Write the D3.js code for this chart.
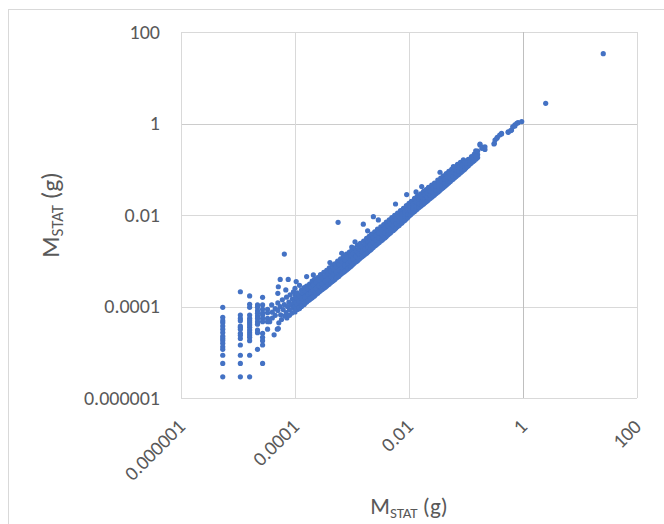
<!DOCTYPE html>
<html>
<head>
<meta charset="utf-8">
<script src="https://cdn.jsdelivr.net/npm/d3@7"></script>
<style>
  body { margin: 0; background: #fff; }
  text { font-family: Carlito, Calibri, "Open Sans", sans-serif; fill: #595959; }
</style>
</head>
<body>
<div id="scatter"></div>
<script>
// tick values and their labels (same on both axes)
var tickValues = [0.000001, 0.0001, 0.01, 1, 100];
var tickLabels = ["0.000001", "0.0001", "0.01", "1", "100"];

// small masses at the left
var lowMassPoints = [
  [5.4e-6, 9.6e-5], [5.4e-6, 5.8e-5], [5.4e-6, 4.9e-5], [5.4e-6, 4.4e-5], [5.4e-6, 3.75e-5],
  [5.4e-6, 3.2e-5], [5.4e-6, 2.7e-5], [5.4e-6, 2.25e-5], [5.4e-6, 2.0e-5], [5.4e-6, 1.8e-5],
  [5.4e-6, 1.57e-5], [5.4e-6, 1.32e-5], [5.4e-6, 1.16e-5], [5.4e-6, 8.6e-6], [5.4e-6, 5.7e-6],
  [5.4e-6, 2.9e-6],
  [1.1e-5, 2.1e-4], [1.1e-5, 6.5e-5], [1.1e-5, 5.5e-5], [1.1e-5, 4.9e-5], [1.1e-5, 3.75e-5],
  [1.1e-5, 3.5e-5], [1.1e-5, 3.2e-5], [1.1e-5, 2.6e-5], [1.1e-5, 2.35e-5], [1.1e-5, 2.0e-5],
  [1.1e-5, 1.44e-5], [1.1e-5, 8.6e-6], [1.1e-5, 5.7e-6], [1.1e-5, 2.9e-6],
  [1.6e-5, 1.7e-4], [1.6e-5, 1.12e-4], [1.6e-5, 9.6e-5], [1.6e-5, 6.5e-5], [1.6e-5, 5.5e-5],
  [1.6e-5, 4.9e-5], [1.6e-5, 4.4e-5], [1.6e-5, 3.95e-5], [1.6e-5, 3.5e-5], [1.6e-5, 3.06e-5],
  [1.6e-5, 2.68e-5], [1.6e-5, 2.38e-5], [1.6e-5, 2.12e-5], [1.6e-5, 1.79e-5], [1.6e-5, 8.6e-6],
  [1.6e-5, 2.9e-6],
  [2.2e-5, 1.08e-4], [2.2e-5, 9.6e-5], [2.2e-5, 8.1e-5], [2.2e-5, 7.1e-5], [2.2e-5, 6.2e-5],
  [2.2e-5, 5.5e-5], [2.2e-5, 4.65e-5], [2.2e-5, 4.1e-5], [2.2e-5, 3.06e-5], [2.2e-5, 2.68e-5],
  [2.2e-5, 1.16e-5],
  [2.7e-5, 1.59e-4], [2.7e-5, 1.08e-4], [2.7e-5, 8.7e-5], [2.7e-5, 7.3e-5], [2.7e-5, 6.5e-5],
  [2.7e-5, 5.5e-5], [2.7e-5, 4.65e-5], [2.7e-5, 2.6e-5], [2.7e-5, 2.12e-5], [2.7e-5, 1.79e-5],
  [2.7e-5, 1.44e-5], [2.7e-5, 5.7e-6],
  [3.3e-5, 8.7e-5], [3.3e-5, 7.3e-5], [3.3e-5, 5.5e-5], [3.3e-5, 4.65e-5], [3.3e-5, 3.2e-5]
];

// where the columns merge into the band
var mergePoints = [
  [3.6e-5, 4.65e-5], [3.9e-5, 1.08e-4], [4.0e-5, 7.5e-5], [4.0e-5, 5.6e-5], [4.3e-5, 2.4e-5],
  [4.5e-5, 9.0e-5], [4.5e-5, 6.4e-5], [4.9e-5, 3.2e-5], [5.0e-5, 1.94e-4], [5.0e-5, 1.2e-4],
  [5.0e-5, 8.2e-5], [5.1e-5, 2.7e-4], [5.1e-5, 3.3e-5], [5.2e-5, 4.4e-5], [5.5e-5, 3.9e-4],
  [5.5e-5, 1.0e-4], [5.6e-5, 6.6e-5], [5.8e-5, 5.2e-5], [6.0e-5, 1.4e-4], [6.2e-5, 8.6e-5],
  [6.5e-5, 1.4e-3], [6.5e-5, 1.1e-4], [6.6e-5, 6.2e-5], [6.9e-5, 2.3e-4], [7.0e-5, 7.4e-5],
  [7.1e-5, 1.6e-4], [7.2e-5, 5.6e-5], [7.4e-5, 1.0e-4], [7.6e-5, 3.9e-4], [7.8e-5, 1.25e-4],
  [8.0e-5, 6.4e-5], [8.0e-5, 8.6e-5], [8.2e-5, 1.8e-4], [8.5e-5, 1.1e-4], [8.8e-5, 7.2e-5],
  [9.0e-5, 1.45e-4], [9.2e-5, 9.2e-5], [9.4e-5, 2.1e-4], [9.5e-5, 1.2e-4]
];

// main band, 0.0001 g to 0.16 g
var bandPoints = [
  [1.0e-4, 7.6e-5], [1.0e-4, 1.0e-4], [1.0e-4, 1.35e-4], [1.0e-4, 1.8e-4], [1.0e-4, 2.5e-4], [1.05e-4, 3.5e-4],
  [1.1e-4, 8.6e-5], [1.1e-4, 1.15e-4], [1.1e-4, 1.5e-4], [1.1e-4, 2.0e-4],
  [1.2e-4, 9.0e-5], [1.2e-4, 1.2e-4], [1.2e-4, 1.6e-4], [1.2e-4, 2.9e-4],
  [1.3e-4, 1.0e-4], [1.3e-4, 1.35e-4], [1.3e-4, 1.75e-4], [1.3e-4, 2.3e-4],
  [1.45e-4, 1.1e-4], [1.45e-4, 1.45e-4], [1.45e-4, 1.9e-4], [1.45e-4, 2.6e-4],
  [1.6e-4, 1.25e-4], [1.6e-4, 1.65e-4], [1.6e-4, 2.1e-4], [1.6e-4, 2.8e-4], [1.6e-4, 4.5e-4],
  [1.8e-4, 1.4e-4], [1.8e-4, 1.8e-4], [1.8e-4, 2.35e-4], [1.8e-4, 3.1e-4],
  [2.0e-4, 1.55e-4], [2.0e-4, 2.0e-4], [2.0e-4, 2.7e-4], [2.0e-4, 3.6e-4],
  [2.1e-4, 4.9e-4],
  [2.2e-4, 1.7e-4], [2.2e-4, 2.3e-4], [2.2e-4, 3.0e-4], [2.2e-4, 3.9e-4],
  [2.5e-4, 1.95e-4], [2.5e-4, 2.5e-4], [2.5e-4, 3.3e-4], [2.5e-4, 4.3e-4],
  [2.8e-4, 2.2e-4], [2.8e-4, 2.9e-4], [2.8e-4, 3.7e-4], [2.8e-4, 5.0e-4],
  [3.2e-4, 2.5e-4], [3.2e-4, 3.3e-4], [3.2e-4, 4.2e-4], [3.2e-4, 5.6e-4],
  [3.6e-4, 2.8e-4], [3.6e-4, 3.6e-4], [3.6e-4, 4.8e-4], [3.6e-4, 6.2e-4],
  [4.0e-4, 3.1e-4], [4.0e-4, 4.1e-4], [4.0e-4, 5.3e-4], [4.0e-4, 7.0e-4], [4.1e-4, 9.1e-4],
  [4.5e-4, 3.5e-4], [4.5e-4, 4.6e-4], [4.5e-4, 6.0e-4], [4.5e-4, 8.0e-4],
  [5.0e-4, 3.9e-4], [5.0e-4, 5.1e-4], [5.0e-4, 6.6e-4], [5.0e-4, 8.6e-4],
  [5.6e-4, 4.4e-4], [5.6e-4, 5.7e-4], [5.6e-4, 7.4e-4], [5.6e-4, 9.8e-4],
  [6.3e-4, 5.0e-4], [6.3e-4, 6.4e-4], [6.3e-4, 8.4e-4], [6.3e-4, 1.1e-3],
  [7.1e-4, 5.6e-4], [7.1e-4, 7.2e-4], [7.1e-4, 9.5e-4], [7.1e-4, 1.25e-3],
  [8.0e-4, 6.3e-4], [8.0e-4, 8.1e-4], [8.0e-4, 1.05e-3], [8.0e-4, 1.4e-3],
  [9.0e-4, 7.1e-4], [9.0e-4, 9.2e-4], [9.0e-4, 1.2e-3], [9.0e-4, 1.55e-3],
  [1.0e-3, 8.0e-4], [1.0e-3, 1.0e-3], [1.0e-3, 1.3e-3], [1.0e-3, 1.7e-3], [9.9e-4, 2.0e-3],
  [1.1e-3, 8.9e-4], [1.1e-3, 1.15e-3], [1.1e-3, 1.5e-3], [1.1e-3, 1.9e-3],
  [1.25e-3, 1.0e-3], [1.25e-3, 1.3e-3], [1.25e-3, 1.7e-3], [1.25e-3, 2.2e-3],
  [1.4e-3, 1.15e-3], [1.4e-3, 1.45e-3], [1.4e-3, 1.85e-3], [1.4e-3, 2.4e-3],
  [1.6e-3, 1.3e-3], [1.6e-3, 1.65e-3], [1.6e-3, 2.1e-3], [1.6e-3, 2.7e-3],
  [1.8e-3, 1.45e-3], [1.8e-3, 1.85e-3], [1.8e-3, 2.4e-3], [1.8e-3, 3.1e-3],
  [2.0e-3, 1.65e-3], [2.0e-3, 2.1e-3], [2.0e-3, 2.7e-3], [2.0e-3, 3.4e-3],
  [2.2e-3, 1.8e-3], [2.2e-3, 2.3e-3], [2.2e-3, 2.95e-3], [2.2e-3, 3.8e-3],
  [2.5e-3, 2.1e-3], [2.5e-3, 2.6e-3], [2.5e-3, 3.3e-3], [2.5e-3, 4.3e-3],
  [2.8e-3, 2.35e-3], [2.8e-3, 2.95e-3], [2.8e-3, 3.8e-3], [2.8e-3, 4.9e-3],
  [3.2e-3, 2.7e-3], [3.2e-3, 3.4e-3], [3.2e-3, 4.3e-3], [3.2e-3, 5.5e-3],
  [3.6e-3, 3.05e-3], [3.6e-3, 3.8e-3], [3.6e-3, 4.9e-3], [3.6e-3, 6.2e-3],
  [4.0e-3, 3.4e-3], [4.0e-3, 4.3e-3], [4.0e-3, 5.4e-3], [4.0e-3, 7.0e-3],
  [4.5e-3, 3.9e-3], [4.5e-3, 4.9e-3], [4.5e-3, 6.1e-3], [4.5e-3, 7.8e-3],
  [5.0e-3, 4.4e-3], [5.0e-3, 5.4e-3], [5.0e-3, 6.8e-3], [5.0e-3, 8.8e-3],
  [5.6e-3, 4.9e-3], [5.6e-3, 6.1e-3], [5.6e-3, 7.6e-3], [5.6e-3, 9.8e-3],
  [6.3e-3, 5.6e-3], [6.3e-3, 6.9e-3], [6.3e-3, 8.6e-3], [6.3e-3, 1.1e-2],
  [7.1e-3, 6.4e-3], [7.1e-3, 7.8e-3], [7.1e-3, 9.7e-3], [7.1e-3, 1.25e-2],
  [8.0e-3, 7.3e-3], [8.0e-3, 8.9e-3], [8.0e-3, 1.1e-2], [8.0e-3, 1.4e-2],
  [9.0e-3, 8.3e-3], [9.0e-3, 1.0e-2], [9.0e-3, 1.25e-2], [9.0e-3, 1.6e-2],
  [1.0e-2, 9.5e-3], [1.0e-2, 1.15e-2], [1.0e-2, 1.4e-2], [1.0e-2, 1.8e-2],
  [1.1e-2, 1.05e-2], [1.1e-2, 1.3e-2], [1.1e-2, 1.6e-2], [1.1e-2, 2.0e-2],
  [1.25e-2, 1.2e-2], [1.25e-2, 1.45e-2], [1.25e-2, 1.8e-2], [1.25e-2, 2.3e-2],
  [1.33e-2, 3.2e-2],
  [1.4e-2, 1.35e-2], [1.4e-2, 1.65e-2], [1.4e-2, 2.05e-2], [1.4e-2, 2.6e-2],
  [1.6e-2, 1.55e-2], [1.6e-2, 1.9e-2], [1.6e-2, 2.35e-2], [1.6e-2, 2.9e-2], [1.67e-2, 4.2e-2],
  [1.8e-2, 1.75e-2], [1.8e-2, 2.1e-2], [1.8e-2, 2.6e-2], [1.8e-2, 3.3e-2],
  [2.0e-2, 1.95e-2], [2.0e-2, 2.35e-2], [2.0e-2, 2.9e-2], [2.0e-2, 3.6e-2],
  [2.2e-2, 2.15e-2], [2.2e-2, 2.6e-2], [2.2e-2, 3.2e-2], [2.2e-2, 4.0e-2],
  [2.5e-2, 2.45e-2], [2.5e-2, 2.95e-2], [2.5e-2, 3.6e-2], [2.5e-2, 4.5e-2],
  [2.8e-2, 2.75e-2], [2.8e-2, 3.3e-2], [2.8e-2, 4.1e-2], [2.8e-2, 5.0e-2],
  [3.2e-2, 3.15e-2], [3.2e-2, 3.8e-2], [3.2e-2, 4.6e-2], [3.2e-2, 5.8e-2],
  [3.6e-2, 3.6e-2], [3.6e-2, 4.3e-2], [3.6e-2, 5.2e-2], [3.6e-2, 6.4e-2],
  [4.0e-2, 4.0e-2], [4.0e-2, 4.8e-2], [4.0e-2, 5.8e-2], [4.0e-2, 7.2e-2],
  [4.5e-2, 4.55e-2], [4.5e-2, 5.4e-2], [4.5e-2, 6.6e-2], [4.5e-2, 8.0e-2],
  [5.0e-2, 5.1e-2], [5.0e-2, 6.0e-2], [5.0e-2, 7.3e-2], [5.0e-2, 9.0e-2],
  [5.6e-2, 5.8e-2], [5.6e-2, 6.8e-2], [5.6e-2, 8.2e-2], [5.6e-2, 1.0e-1],
  [6.3e-2, 6.5e-2], [6.3e-2, 7.7e-2], [6.3e-2, 9.2e-2], [6.3e-2, 1.12e-1],
  [7.1e-2, 7.4e-2], [7.1e-2, 8.7e-2], [7.1e-2, 1.04e-1], [7.1e-2, 1.28e-1],
  [8.0e-2, 8.4e-2], [8.0e-2, 9.8e-2], [8.0e-2, 1.17e-1], [8.0e-2, 1.42e-1],
  [9.0e-2, 9.5e-2], [9.0e-2, 1.1e-1], [9.0e-2, 1.32e-1], [9.0e-2, 1.6e-1],
  [0.1, 0.108], [0.1, 0.125], [0.1, 0.15],
  [0.11, 0.12], [0.11, 0.14], [0.11, 0.165],
  [0.125, 0.138], [0.125, 0.16], [0.125, 0.19],
  [0.14, 0.155], [0.14, 0.18], [0.14, 0.215],
  [0.16, 0.18], [0.16, 0.21], [0.16, 0.25]
];

// more band points lying between the ones above
var bandFillPoints = [
  [1.05e-4, 9.0e-5], [1.05e-4, 1.2e-4], [1.05e-4, 1.55e-4],
  [1.18e-4, 9.5e-5], [1.18e-4, 1.3e-4], [1.18e-4, 1.75e-4],
  [1.33e-4, 1.05e-4], [1.33e-4, 1.5e-4], [1.33e-4, 2.0e-4],
  [1.5e-4, 1.2e-4], [1.5e-4, 1.6e-4], [1.5e-4, 2.2e-4],
  [1.7e-4, 1.35e-4], [1.7e-4, 1.85e-4], [1.7e-4, 2.45e-4],
  [1.9e-4, 1.5e-4], [1.9e-4, 2.05e-4], [1.9e-4, 2.7e-4],
  [2.1e-4, 1.65e-4], [2.1e-4, 2.25e-4], [2.1e-4, 3.0e-4],
  [2.35e-4, 1.85e-4], [2.35e-4, 2.5e-4], [2.35e-4, 3.4e-4],
  [2.65e-4, 2.1e-4], [2.65e-4, 2.85e-4], [2.65e-4, 3.8e-4],
  [3.0e-4, 2.35e-4], [3.0e-4, 3.15e-4], [3.0e-4, 4.3e-4],
  [3.4e-4, 2.65e-4], [3.4e-4, 3.6e-4], [3.4e-4, 4.7e-4],
  [3.8e-4, 3.0e-4], [3.8e-4, 4.0e-4], [3.8e-4, 5.3e-4],
  [4.25e-4, 3.35e-4], [4.25e-4, 4.5e-4], [4.25e-4, 6.0e-4],
  [4.75e-4, 3.7e-4], [4.75e-4, 5.0e-4], [4.75e-4, 6.6e-4],
  [5.3e-4, 4.2e-4], [5.3e-4, 5.6e-4], [5.3e-4, 7.5e-4],
  [5.9e-4, 4.6e-4], [5.9e-4, 6.2e-4], [5.9e-4, 8.2e-4],
  [6.7e-4, 5.3e-4], [6.7e-4, 7.0e-4], [6.7e-4, 9.4e-4],
  [7.5e-4, 5.9e-4], [7.5e-4, 7.9e-4], [7.5e-4, 1.05e-3],
  [8.5e-4, 6.7e-4], [8.5e-4, 8.9e-4], [8.5e-4, 1.18e-3],
  [9.5e-4, 7.5e-4], [9.5e-4, 9.9e-4], [9.5e-4, 1.32e-3],
  [1.05e-3, 8.5e-4], [1.05e-3, 1.12e-3], [1.05e-3, 1.45e-3],
  [1.18e-3, 9.5e-4], [1.18e-3, 1.25e-3], [1.18e-3, 1.65e-3],
  [1.33e-3, 1.08e-3], [1.33e-3, 1.42e-3], [1.33e-3, 1.85e-3],
  [1.5e-3, 1.22e-3], [1.5e-3, 1.6e-3], [1.5e-3, 2.05e-3],
  [1.7e-3, 1.38e-3], [1.7e-3, 1.8e-3], [1.7e-3, 2.3e-3],
  [1.9e-3, 1.55e-3], [1.9e-3, 2.0e-3], [1.9e-3, 2.6e-3],
  [2.1e-3, 1.72e-3], [2.1e-3, 2.25e-3], [2.1e-3, 2.9e-3],
  [2.35e-3, 1.95e-3], [2.35e-3, 2.5e-3], [2.35e-3, 3.2e-3],
  [2.65e-3, 2.2e-3], [2.65e-3, 2.85e-3], [2.65e-3, 3.6e-3],
  [3.0e-3, 2.5e-3], [3.0e-3, 3.2e-3], [3.0e-3, 4.1e-3],
  [3.4e-3, 2.85e-3], [3.4e-3, 3.6e-3], [3.4e-3, 4.6e-3],
  [3.8e-3, 3.2e-3], [3.8e-3, 4.1e-3], [3.8e-3, 5.2e-3],
  [4.25e-3, 3.65e-3], [4.25e-3, 4.6e-3], [4.25e-3, 5.8e-3],
  [4.75e-3, 4.1e-3], [4.75e-3, 5.1e-3], [4.75e-3, 6.5e-3],
  [5.3e-3, 4.6e-3], [5.3e-3, 5.7e-3], [5.3e-3, 7.3e-3],
  [5.9e-3, 5.2e-3], [5.9e-3, 6.4e-3], [5.9e-3, 8.1e-3],
  [6.7e-3, 5.9e-3], [6.7e-3, 7.3e-3], [6.7e-3, 9.2e-3],
  [7.5e-3, 6.7e-3], [7.5e-3, 8.2e-3], [7.5e-3, 1.03e-2],
  [8.5e-3, 7.7e-3], [8.5e-3, 9.3e-3], [8.5e-3, 1.17e-2],
  [9.5e-3, 8.8e-3], [9.5e-3, 1.05e-2], [9.5e-3, 1.3e-2],
  [1.05e-2, 1.0e-2], [1.05e-2, 1.25e-2], [1.05e-2, 1.55e-2],
  [1.18e-2, 1.14e-2], [1.18e-2, 1.4e-2], [1.18e-2, 1.75e-2],
  [1.33e-2, 1.29e-2], [1.33e-2, 1.57e-2], [1.33e-2, 1.95e-2],
  [1.5e-2, 1.46e-2], [1.5e-2, 1.78e-2], [1.5e-2, 2.2e-2],
  [1.7e-2, 1.65e-2], [1.7e-2, 2.0e-2], [1.7e-2, 2.5e-2],
  [1.9e-2, 1.86e-2], [1.9e-2, 2.25e-2], [1.9e-2, 2.8e-2],
  [2.1e-2, 2.06e-2], [2.1e-2, 2.48e-2], [2.1e-2, 3.05e-2],
  [2.35e-2, 2.3e-2], [2.35e-2, 2.78e-2], [2.35e-2, 3.4e-2],
  [2.65e-2, 2.6e-2], [2.65e-2, 3.12e-2], [2.65e-2, 3.85e-2],
  [3.0e-2, 2.95e-2], [3.0e-2, 3.55e-2], [3.0e-2, 4.35e-2],
  [3.4e-2, 3.35e-2], [3.4e-2, 4.0e-2], [3.4e-2, 4.9e-2],
  [3.8e-2, 3.78e-2], [3.8e-2, 4.5e-2], [3.8e-2, 5.5e-2],
  [4.25e-2, 4.25e-2], [4.25e-2, 5.05e-2], [4.25e-2, 6.1e-2],
  [4.75e-2, 4.8e-2], [4.75e-2, 5.65e-2], [4.75e-2, 6.9e-2],
  [5.3e-2, 5.4e-2], [5.3e-2, 6.35e-2], [5.3e-2, 7.7e-2],
  [5.9e-2, 6.05e-2], [5.9e-2, 7.1e-2], [5.9e-2, 8.6e-2],
  [6.7e-2, 6.9e-2], [6.7e-2, 8.1e-2], [6.7e-2, 9.8e-2],
  [7.5e-2, 7.8e-2], [7.5e-2, 9.1e-2], [7.5e-2, 1.1e-1],
  [8.5e-2, 8.9e-2], [8.5e-2, 1.03e-1], [8.5e-2, 1.24e-1],
  [9.5e-2, 1.0e-1], [9.5e-2, 1.16e-1], [9.5e-2, 1.38e-1],
  [0.105, 0.115], [0.105, 0.135], [0.118, 0.13], [0.118, 0.152],
  [0.133, 0.148], [0.133, 0.172], [0.15, 0.168], [0.15, 0.195]
];

// scattered points above the band
var highPoints = [
  [6.6e-4, 1.46e-3], [5.7e-4, 6.9e-3], [1.13e-3, 2.6e-3], [1.58e-3, 6.3e-3], [1.88e-3, 4.5e-3],
  [2.37e-3, 9.2e-3], [2.9e-3, 7.8e-3], [5.8e-3, 1.74e-2], [9.1e-3, 2.8e-2],
  [3.5e-2, 8.6e-2], [6.0e-2, 0.114]
];

// the largest masses, where the band thins out
var topPoints = [
  [0.148, 0.254], [0.176, 0.34], [0.176, 0.356], [0.19, 0.287], [0.2, 0.3], [0.215, 0.27],
  [0.215, 0.31], [0.31, 0.356], [0.314, 0.37], [0.323, 0.435], [0.348, 0.475], [0.354, 0.5],
  [0.39, 0.56], [0.42, 0.59], [0.42, 0.61], [0.55, 0.64], [0.55, 0.66], [0.61, 0.7],
  [0.63, 0.72], [0.66, 0.85], [0.72, 0.88], [0.72, 0.93], [0.78, 1.01], [0.82, 1.04],
  [0.95, 1.1], [2.5, 2.76], [25.6, 33.6]
];

var width = 664;
var height = 524;

var plot = { left: 181, right: 637, top: 32, bottom: 398 };

var svg = d3.select("#scatter")
  .append("svg")
  .attr("width", width)
  .attr("height", height);

// chart area border
svg.append("rect")
  .attr("x", 8.5)
  .attr("y", 9.5)
  .attr("width", width)
  .attr("height", height)
  .attr("fill", "none")
  .attr("stroke", "#d9d9d9");

var xScale = d3.scaleLog()
  .domain([0.000001, 100])
  .range([plot.left, plot.right]);

var yScale = d3.scaleLog()
  .domain([0.000001, 100])
  .range([plot.bottom, plot.top]);

// gridlines
svg.append("g")
  .selectAll("line")
  .data(tickValues)
  .enter()
  .append("line")
  .attr("x1", plot.left)
  .attr("x2", plot.right)
  .attr("y1", d => Math.round(yScale(d)) + 0.5)
  .attr("y2", d => Math.round(yScale(d)) + 0.5)
  .attr("stroke", d => d === 1 ? "#cccccc" : "#d9d9d9");

svg.append("g")
  .selectAll("line")
  .data(tickValues)
  .enter()
  .append("line")
  .attr("x1", d => Math.round(xScale(d)) + 0.5)
  .attr("x2", d => Math.round(xScale(d)) + 0.5)
  .attr("y1", plot.top)
  .attr("y2", plot.bottom)
  .attr("stroke", d => d === 1 ? "#bfbfbf" : "#d9d9d9");

// axes (labels only)
var yAxis = d3.axisLeft(yScale)
  .tickValues(tickValues)
  .tickFormat((d, i) => tickLabels[i])
  .tickSize(0)
  .tickPadding(21);

var yAxisGroup = svg.append("g")
  .attr("transform", "translate(" + plot.left + ",0)")
  .call(yAxis);
yAxisGroup.select(".domain").remove();
yAxisGroup.selectAll("text")
  .attr("font-family", null)
  .style("font-size", "20px")
  .attr("fill", "#595959");

var xAxis = d3.axisBottom(xScale)
  .tickValues(tickValues)
  .tickFormat((d, i) => tickLabels[i])
  .tickSize(0);

var xAxisGroup = svg.append("g")
  .attr("transform", "translate(0," + plot.bottom + ")")
  .call(xAxis);
xAxisGroup.select(".domain").remove();
xAxisGroup.selectAll("text")
  .attr("font-family", null)
  .style("font-size", "20px")
  .attr("fill", "#595959")
  .attr("x", 0)
  .attr("y", 0)
  .attr("dy", "0.35em")
  .attr("text-anchor", "end")
  .attr("transform", "translate(0,25) rotate(-45)");

// points
var allPoints = lowMassPoints.concat(mergePoints, bandPoints, bandFillPoints, highPoints, topPoints);

svg.append("g")
  .selectAll("circle")
  .data(allPoints)
  .enter()
  .append("circle")
  .attr("cx", d => xScale(d[0]))
  .attr("cy", d => yScale(d[1]))
  .attr("r", 2.6)
  .attr("fill", "#4472c4");

// axis titles
function axisTitle(g, size) {
  g.append("tspan").text("M");
  g.append("tspan").text("STAT").style("font-size", Math.round(size * 0.67) + "px").attr("dy", 4);
  g.append("tspan").text(" (g)").attr("dy", -4);
}

var xTitle = svg.append("text")
  .attr("x", (plot.left + plot.right) / 2)
  .attr("y", 514)
  .attr("text-anchor", "middle")
  .style("font-size", "23px");
axisTitle(xTitle, 23);

var yTitle = svg.append("text")
  .attr("transform", "translate(59," + (plot.top + plot.bottom) / 2 + ") rotate(-90)")
  .attr("text-anchor", "middle")
  .style("font-size", "25px");
axisTitle(yTitle, 25);
</script>
</body>
</html>
